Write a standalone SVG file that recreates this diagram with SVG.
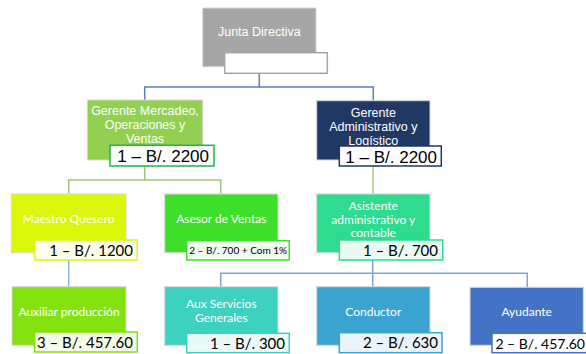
<svg xmlns="http://www.w3.org/2000/svg" width="586" height="354" viewBox="0 0 586 354">
<style>
.box{stroke:#d8d8d8;stroke-width:1}
.lbl{stroke-width:1.5}
.t{fill:#ffffff;font-family:"Liberation Sans",Arial,sans-serif;font-size:12.5px;text-anchor:middle}
.c{fill:#ffffff;font-family:Lato,"Open Sans",sans-serif;font-size:12px;text-anchor:middle}
.v{fill:#000000;font-family:"Liberation Sans",Arial,sans-serif;font-size:17px;text-anchor:end}
.w{fill:#000000;font-family:Lato,"Open Sans",sans-serif;font-size:15px;text-anchor:end}
.conn{fill:none;stroke-width:1.5}
</style>
<rect width="586" height="354" fill="#ffffff"/>
<g id="connectors">
<polyline class="conn" stroke="#5b7fc0" points="259.3,73 259.3,87 144.7,87 144.7,100"/>
<polyline class="conn" stroke="#5b7fc0" points="259.3,87 373.3,87 373.3,100.7"/>
<polyline class="conn" stroke="#9cc47a" points="144.7,166 144.7,180 68.7,180 68.7,194"/>
<polyline class="conn" stroke="#9cc47a" points="144.7,180 220.7,180 220.7,194"/>
<polyline class="conn" stroke="#a9cc8a" points="373,166 373,194"/>
<polyline class="conn" stroke="#8cb4e0" points="68.7,260 68.7,286.7"/>
<polyline class="conn" stroke="#7fa3cf" points="372.7,260 372.7,273.3 220.7,273.3 220.7,286.7"/>
<polyline class="conn" stroke="#7fa3cf" points="372.7,273.3 527.3,273.3 527.3,287.3"/>
<polyline class="conn" stroke="#7fa3cf" points="372.7,273.3 372.7,286.7"/>
</g>
<g id="junta">
<rect class="box" x="202.7" y="8" width="113.3" height="58.7" fill="#a6a6a6"/>
<text class="t" x="259.3" y="36">Junta Directiva</text>
<rect class="lbl" x="224.7" y="52.7" width="102.6" height="20.6" fill="#ffffff" stroke="#a6a6a6"/>
</g>
<g id="gerente-mercadeo">
<rect class="box" x="87.3" y="100" width="115.4" height="60" fill="#92d050"/>
<text class="t" x="145" y="115">Gerente Mercadeo,</text>
<text class="t" x="145" y="129">Operaciones y</text>
<text class="t" x="145" y="143">Ventas</text>
<rect class="lbl" x="110" y="145.3" width="104" height="20.7" fill="#ffffff" stroke="#22b14c"/>
<text class="v" x="209" y="162">1 – B/. 2200</text>
</g>
<g id="gerente-admin">
<rect class="box" x="316.7" y="100.7" width="113.3" height="59.3" fill="#1f3864"/>
<text class="t" x="373.3" y="117">Gerente</text>
<text class="t" x="373.3" y="131">Administrativo y</text>
<text class="t" x="373.3" y="145">Logístico</text>
<rect class="lbl" x="339.3" y="146" width="102" height="20" fill="#ffffff" stroke="#1f3864"/>
<text class="v" x="437" y="162.5">1 – B/. 2200</text>
</g>
<g id="maestro-quesero">
<rect class="box" x="11.3" y="194" width="114.7" height="58.7" fill="#dcf70a"/>
<text class="c" x="68.7" y="223">Maestro Quesero</text>
<rect class="lbl" x="34.7" y="240" width="102.6" height="20" fill="#fbfee8" stroke="#dcf70a"/>
<text class="w" x="133" y="255.5">1 – B/. 1200</text>
</g>
<g id="asesor-ventas">
<rect class="box" x="164.7" y="194" width="113.3" height="58.7" fill="#3fe02b"/>
<text class="c" x="221.3" y="223">Asesor de Ventas</text>
<rect class="lbl" x="186.7" y="240.7" width="102.6" height="19.3" fill="#f0fcee" stroke="#3fe02b"/>
<text class="w" x="287" y="254" style="font-size:10px">2 – B/. 700 + Com 1%</text>
</g>
<g id="asistente">
<rect class="box" x="316.7" y="194" width="113.3" height="58.7" fill="#2edb8f"/>
<text class="c" x="373.3" y="210">Asistente</text>
<text class="c" x="373.3" y="223.5">administrativo y</text>
<text class="c" x="373.3" y="237">contable</text>
<rect class="lbl" x="339.3" y="240" width="103.4" height="20" fill="#eafbf3" stroke="#2edb8f"/>
<text class="w" x="438" y="255.5">1 – B/. 700</text>
</g>
<g id="auxiliar-produccion">
<rect class="box" x="12" y="286.7" width="114" height="58.6" fill="#84e20f"/>
<text class="c" x="69" y="316">Auxiliar producción</text>
<rect class="lbl" x="34.7" y="332" width="102.6" height="20" fill="#f3fce8" stroke="#84e20f"/>
<text class="w" x="133" y="347.5">3 – B/. 457.60</text>
</g>
<g id="aux-servicios">
<rect class="box" x="164.7" y="286.7" width="113.3" height="58.6" fill="#3dd1c0"/>
<text class="c" x="221.3" y="308">Aux Servicios</text>
<text class="c" x="221.3" y="322">Generales</text>
<rect class="lbl" x="186.7" y="333.3" width="102.6" height="19.4" fill="#ebf9f8" stroke="#3dd1c0"/>
<text class="w" x="285" y="348.5">1 – B/. 300</text>
</g>
<g id="conductor">
<rect class="box" x="316.7" y="286.7" width="113.3" height="58.6" fill="#3ba3cf"/>
<text class="c" x="373.3" y="316">Conductor</text>
<rect class="lbl" x="339.3" y="332.7" width="102.7" height="20" fill="#eaf4fb" stroke="#3ba3cf"/>
<text class="w" x="438" y="348">2 – B/. 630</text>
</g>
<g id="ayudante">
<rect class="box" x="470" y="287.3" width="113.3" height="58" fill="#4472c4"/>
<text class="c" x="526.7" y="316">Ayudante</text>
<rect class="lbl" x="492" y="333.3" width="100" height="19.4" fill="#ffffff" stroke="#4472c4"/>
<text class="w" x="585" y="348.5" style="font-size:14px">2 – B/. 457.60</text>
</g>
</svg>
